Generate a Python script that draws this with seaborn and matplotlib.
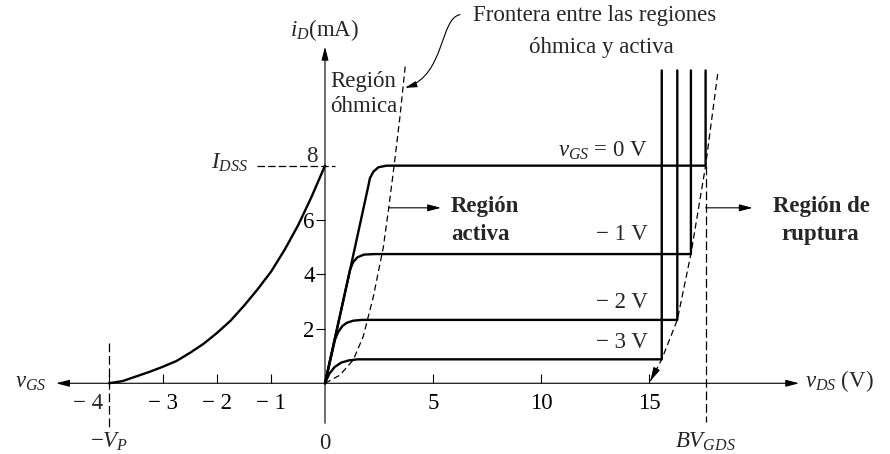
import matplotlib
matplotlib.use("Agg")
import matplotlib.pyplot as plt
import pandas as pd
import seaborn as sns
from matplotlib.path import Path
from matplotlib.patches import FancyArrowPatch

# ---------------- data ----------------
# transfer characteristic i_D(v_GS)
vgs_transfer = [-4.0, -3.75, -3.5, -3.25, -3.0, -2.75, -2.5, -2.25, -2.0,
                -1.75, -1.5, -1.25, -1.0, -0.75, -0.5, -0.25, 0.0]
id_transfer = [0.0, 0.08, 0.25, 0.42, 0.61, 0.82, 1.12, 1.45, 1.85,
               2.3, 2.85, 3.45, 4.1, 4.9, 5.8, 6.85, 8.0]

# output characteristics i_D(v_DS) for each v_GS (ending in breakdown)
vgs_labels = ["0 V", "− 1 V", "− 2 V", "− 3 V"]
vds_0 = [0, 1.16, 2.0, 2.08, 2.24, 2.47, 2.85, 17.62, 17.62]
id_0 = [0, 4.17, 7.23, 7.54, 7.78, 7.94, 8.0, 8.0, 11.5]
vds_1 = [0, 1.16, 1.3, 1.5, 1.8, 2.3, 16.94, 16.94]
id_1 = [0, 4.17, 4.45, 4.63, 4.73, 4.75, 4.75, 11.5]
vds_2 = [0, 0.46, 0.6, 0.8, 1.0, 1.3, 1.7, 16.31, 16.31]
id_2 = [0, 1.6, 1.87, 2.1, 2.22, 2.3, 2.33, 2.33, 11.5]
vds_3 = [0, 0.2, 0.45, 0.75, 1.1, 1.5, 15.59, 15.59]
id_3 = [0, 0.35, 0.6, 0.76, 0.84, 0.88, 0.88, 11.5]
label_levels = [8.33, 5.27, 2.77, 1.30]

# ohmic / active boundary
vds_boundary = [0, 0.69, 1.31, 1.77, 2.24, 2.7, 2.95, 3.2, 3.47, 3.72]
id_boundary = [0, 0.3, 0.86, 1.72, 3.19, 5.0, 6.45, 8.0, 9.8, 11.7]

# breakdown locus
vds_breakdown = [15.06, 15.59, 16.31, 16.94, 17.62, 18.2]
id_breakdown = [0.08, 0.88, 2.33, 4.75, 8.0, 11.5]

IDSS = 8.0
VP = -4.0
BV = 17.62

# axis ticks
xticks_pos = [5, 10, 15]
xticks_neg = [-4, -3, -2, -1]
neg_labels = ["", "− 3", "− 2", "− 1"]
yticks = [2, 4, 6]

# ---------------- style ----------------
sns.set_theme(style="white")
plt.rcParams.update({
    "font.family": ["Liberation Serif", "DejaVu Serif"],
    "mathtext.fontset": "custom",
    "mathtext.rm": "Liberation Serif",
    "mathtext.it": "Liberation Serif:italic",
    "mathtext.bf": "Liberation Serif:bold",
    "font.size": 16.5,
})
FS = 16.5
LW = 1.7
ALW = 0.8

fig = plt.figure(figsize=(8.9, 4.54), dpi=100, facecolor="white")
ylim = (-2.60, 14.09)
axL = fig.add_axes([0, 0, 325 / 890, 1])
axR = fig.add_axes([325 / 890, 0, 565 / 890, 1])
axL.set_xlim(-6.019, 0)
axR.set_xlim(0, 26.157)
for ax in (axL, axR):
    ax.set_ylim(*ylim)
    ax.patch.set_alpha(0)
    ax.spines["bottom"].set_position(("data", 0))
    for s in ax.spines.values():
        s.set_visible(False)

head = dict(arrowstyle="-|>,head_length=0.5,head_width=0.13", color="black",
            lw=ALW, shrinkA=0, shrinkB=0, mutation_scale=16)

# axes with arrowheads
axR.annotate("", xy=(21.95, 0), xytext=(0, 0), arrowprops=head, annotation_clip=False)
axR.annotate("", xy=(0, 12.37), xytext=(0, -1.47), arrowprops=head, annotation_clip=False)
axL.annotate("", xy=(-4.98, 0), xytext=(0, 0), arrowprops=head, annotation_clip=False)

# ticks
axR.set_xticks(xticks_pos, [str(t) for t in xticks_pos])
axR.set_yticks(yticks, [str(t) for t in yticks])
axR.tick_params(axis="x", direction="in", length=6.5, width=ALW, pad=7,
                labelsize=FS, bottom=True, top=False, colors="black")
axR.tick_params(axis="y", direction="out", length=6.5, width=ALW, pad=1,
                labelsize=FS, left=True, right=False, colors="black")
axL.set_xticks(xticks_neg, neg_labels)
axL.set_yticks([])
axL.tick_params(axis="x", direction="in", length=6.5, width=ALW, pad=7,
                labelsize=FS, bottom=True, top=False, colors="black")

# transfer curve
transfer = pd.DataFrame({"vgs": vgs_transfer, "id": id_transfer})
sns.lineplot(data=transfer, x="vgs", y="id", ax=axL, color="black",
             linewidth=LW, sort=False, estimator=None, clip_on=False)

# output characteristics
frames = []
for lab, xs, ys in zip(vgs_labels, [vds_0, vds_1, vds_2, vds_3], [id_0, id_1, id_2, id_3]):
    frames.append(pd.DataFrame({"vds": xs, "id": ys, "vgs": lab,
                                "order": range(len(xs))}))
output = pd.concat(frames, ignore_index=True)
sns.lineplot(data=output, x="vds", y="id", units="vgs", ax=axR, color="black",
             linewidth=LW, sort=False, estimator=None, clip_on=False)
for ax in (axL, axR):
    ax.set_xlabel("")
    ax.set_ylabel("")

# dashed guides
dash = dict(color="black", lw=0.9, dashes=(5, 3), clip_on=False)
axR.plot(vds_boundary, id_boundary, **dash)
axR.plot(vds_breakdown, id_breakdown, **dash)
axR.annotate("", xy=(vds_breakdown[0], id_breakdown[0]), xytext=(15.22, 0.33),
             arrowprops=dict(head, lw=0.9), annotation_clip=False)
axL.plot([-1.26, 0.185], [IDSS, IDSS], color="black", lw=0.9, dashes=(6, 2.5), clip_on=False)
axL.plot([VP, VP], [1.48, -1.64], color="black", lw=0.9, dashes=(7, 3), clip_on=False)
axR.plot([BV, BV], [IDSS, -1.42], color="black", lw=0.9, dashes=(7, 3), clip_on=False)

# labels on axes
axR.text(0, 12.77, "$i_D$(mA)", ha="center", va="baseline", fontsize=FS)
axR.text(22.22, -0.13, "$v_{DS}$ (V)", ha="left", va="baseline", fontsize=FS)
axL.text(-5.15, -0.17, "$v_{GS}$", ha="right", va="baseline", fontsize=FS)
axL.text(-0.13, 8.13, "8", ha="right", va="baseline", fontsize=FS)
axL.text(-1.43, 7.88, "$I_{DSS}$", ha="right", va="baseline", fontsize=FS)
axL.text(-4.39, -0.36, "− 4", ha="center", va="top", fontsize=FS)
axL.text(VP, -2.37, "$-V_P$", ha="center", va="baseline", fontsize=FS)
axR.text(0, -2.42, "0", ha="center", va="baseline", fontsize=FS)
axR.text(BV, -2.37, "$BV_{GDS}$", ha="center", va="baseline", fontsize=FS)

# curve labels
for lab, lev in zip(vgs_labels, label_levels):
    txt = "$v_{GS}$ = " + lab if lab == "0 V" else lab
    axR.text(14.95, lev, txt, ha="right", va="baseline", fontsize=FS)

# region labels
axR.text(0.23, 10.89, "Región", ha="left", va="baseline", fontsize=FS)
axR.text(0.23, 9.97, "óhmica", ha="left", va="baseline", fontsize=FS)
axR.annotate("", xy=(5.37, 6.45), xytext=(2.96, 6.45), arrowprops=head)
axR.text(5.83, 6.3, "Región", ha="left", va="baseline", fontsize=FS, fontweight="bold")
axR.text(5.83, 5.27, "activa", ha="left", va="baseline", fontsize=FS, fontweight="bold")
axR.annotate("", xy=(19.8, 6.45), xytext=(BV, 6.45), arrowprops=head, annotation_clip=False)
axR.text(20.74, 6.3, "Región de", ha="left", va="baseline", fontsize=FS, fontweight="bold")
axR.text(21.15, 5.27, "ruptura", ha="left", va="baseline", fontsize=FS, fontweight="bold")

axR.text(12.5, 13.32, "Frontera entre las regiones", ha="center", va="baseline", fontsize=FS)
axR.text(12.78, 12.14, "óhmica y activa", ha="center", va="baseline", fontsize=FS)
curve = Path([(6.25, 13.55), (5.32, 13.43), (5.56, 11.33), (3.70, 10.86)],
             [Path.MOVETO, Path.CURVE4, Path.CURVE4, Path.CURVE4])
axR.add_patch(FancyArrowPatch(path=curve, arrowstyle="-|>,head_length=0.5,head_width=0.13",
                              mutation_scale=14, lw=ALW, color="black",
                              transform=axR.transData, clip_on=False))

fig.savefig("out.png", dpi=100, facecolor="white")
